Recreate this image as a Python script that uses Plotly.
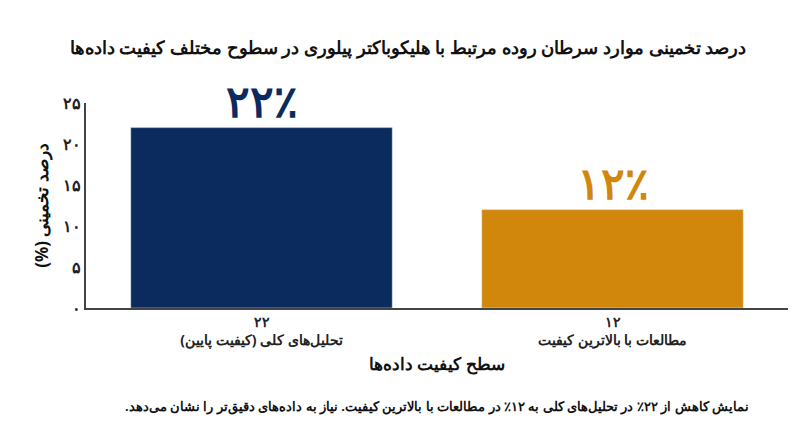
import plotly.graph_objects as go

categories = ["تحلیل‌های کلی (کیفیت پایین)", "مطالعات با بالاترین کیفیت"]
values = [22, 12]
value_labels = ["۲۲", "۱۲"]
pct_labels = ["۲۲٪", "۱۲٪"]
colors = ["#0b2a5e", "#d1870c"]
tick_vals = [0, 5, 10, 15, 20, 25]
tick_text = ["۰", "۵", "۱۰", "۱۵", "۲۰", "۲۵"]

F = "Noto Sans"
RLM = "\u200f"
xlabels = [f"<b>{v}</b><br><b>{RLM}{c}{RLM}</b>" for v, c in zip(value_labels, categories)]

fig = go.Figure(go.Bar(x=xlabels, y=values, marker_color=colors, width=0.745))
for x, y, t, c in zip(xlabels, values, pct_labels, colors):
    fig.add_annotation(x=x, y=y, text=f"<b>{t}</b>", showarrow=False, yanchor="bottom",
                       yshift=-4, font=dict(size=44, color=c, family=F))

fig.update_layout(
    width=800, height=447, plot_bgcolor="white", paper_bgcolor="white",
    margin=dict(l=78, r=20, t=95, b=147),
    font=dict(family=F, color="#222"),
    title=dict(text="<b>درصد تخمینی موارد سرطان روده مرتبط با هلیکوباکتر پیلوری در سطوح مختلف کیفیت داده‌ها</b>",
               x=0.5, y=0.925, xanchor="center", font=dict(size=18, color="#111")),
    showlegend=False,
    bargap=0.25,
)
fig.update_xaxes(showline=True, linecolor="#444", linewidth=1.5, tickfont=dict(size=14, color="#222"),
                 title=dict(text="<b>سطح کیفیت داده‌ها</b>", font=dict(size=17, color="#111"), standoff=10))
fig.update_yaxes(range=[0, 25], tickvals=tick_vals, ticktext=[f"<b>{t}</b>" for t in tick_text], showgrid=False,
                 showline=True, linecolor="#444", linewidth=1.5, ticks="", zeroline=False,
                 tickfont=dict(size=16, color="#222"),
                 title=dict(text=f"<b>{RLM}درصد تخمینی (%){RLM}</b>", font=dict(size=17, color="#111"), standoff=10))
fig.add_annotation(xref="paper", yref="paper", x=0.5, y=-0.53, xanchor="center", showarrow=False,
                   text=f"<b>{RLM}نمایش کاهش از ۲۲٪ در تحلیل‌های کلی به ۱۲٪ در مطالعات با بالاترین کیفیت. نیاز به داده‌های دقیق‌تر را نشان می‌دهد.{RLM}</b>",
                   font=dict(size=13, color="#111"))
fig.write_html("out.html")
